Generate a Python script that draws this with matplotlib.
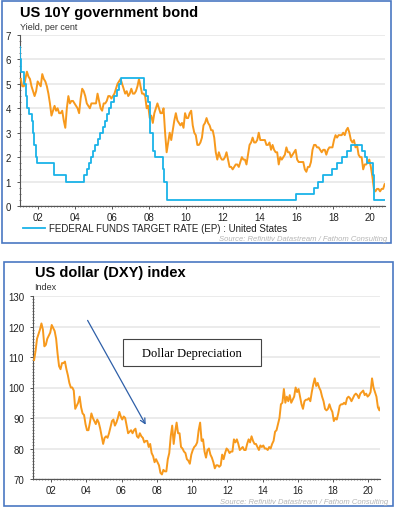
import numpy as np
import matplotlib
matplotlib.use("Agg")
import matplotlib.pyplot as plt
from matplotlib.patches import Rectangle
from matplotlib.ticker import MultipleLocator

plt.rcParams['font.family'] = ['Liberation Sans', 'DejaVu Sans']

# US 10Y yield, monthly from Jan 2001
yield_10y = [
    5.2, 4.9, 4.9, 5.2, 5.5, 5.3, 5.2, 4.9, 4.7, 4.5, 4.7, 5.1,   # 2001
    5.0, 4.9, 5.4, 5.2, 5.1, 4.9, 4.6, 4.2, 3.7, 3.9, 4.1, 3.9,   # 2002
    4.0, 3.8, 3.8, 3.9, 3.5, 3.2, 4.0, 4.5, 4.2, 4.3, 4.3, 4.2,   # 2003
    4.1, 4.0, 3.8, 4.4, 4.8, 4.7, 4.5, 4.2, 4.1, 4.0, 4.2, 4.2,   # 2004
    4.2, 4.2, 4.6, 4.3, 4.0, 3.9, 4.2, 4.2, 4.3, 4.5, 4.5, 4.4,   # 2005
    4.5, 4.6, 4.8, 5.0, 5.1, 5.2, 5.0, 4.8, 4.6, 4.7, 4.5, 4.6,   # 2006
    4.8, 4.6, 4.6, 4.7, 4.9, 5.2, 4.9, 4.6, 4.6, 4.5, 4.0, 4.1,   # 2007
    3.6, 3.7, 3.4, 3.8, 4.0, 4.2, 4.0, 3.8, 3.8, 4.0, 3.0, 2.2,   # 2008
    2.6, 3.0, 2.7, 3.1, 3.5, 3.8, 3.5, 3.4, 3.3, 3.4, 3.2, 3.8,   # 2009
    3.6, 3.6, 3.8, 3.9, 3.3, 3.0, 2.9, 2.5, 2.5, 2.6, 2.8, 3.3,   # 2010
    3.4, 3.6, 3.4, 3.3, 3.1, 3.1, 2.8, 2.2, 1.9, 2.2, 2.0, 1.9,   # 2011
    1.9, 2.0, 2.2, 1.9, 1.6, 1.6, 1.5, 1.6, 1.7, 1.7, 1.6, 1.8,   # 2012
    2.0, 1.9, 1.9, 1.7, 2.1, 2.5, 2.6, 2.8, 2.6, 2.6, 2.7, 3.0,   # 2013
    2.7, 2.7, 2.7, 2.7, 2.5, 2.5, 2.6, 2.3, 2.5, 2.3, 2.2, 2.2,   # 2014
    1.7, 2.0, 1.9, 2.0, 2.1, 2.4, 2.2, 2.2, 2.0, 2.1, 2.2, 2.3,   # 2015
    1.9, 1.8, 1.8, 1.8, 1.8, 1.5, 1.4, 1.6, 1.6, 1.8, 2.3, 2.5,   # 2016
    2.5, 2.4, 2.4, 2.3, 2.2, 2.3, 2.3, 2.1, 2.3, 2.4, 2.4, 2.4,   # 2017
    2.7, 2.9, 2.8, 2.9, 2.9, 2.9, 3.0, 2.9, 3.1, 3.2, 3.0, 2.7,   # 2018
    2.6, 2.7, 2.4, 2.5, 2.1, 2.0, 2.0, 1.5, 1.7, 1.7, 1.8, 1.9,   # 2019
    1.6, 1.2, 0.7, 0.6, 0.7, 0.7, 0.6, 0.7, 0.7, 0.9, 0.85, 0.95, # 2020
]

# Fed funds target rate: change dates (decimal years) and new level
ffr_dates = [2001.0, 2001.01, 2001.08, 2001.21, 2001.30, 2001.37, 2001.49, 2001.64,
             2001.71, 2001.75, 2001.85, 2001.94, 2002.85, 2003.48, 2004.49,
             2004.61, 2004.72, 2004.86, 2004.95, 2005.09, 2005.22, 2005.34,
             2005.49, 2005.61, 2005.72, 2005.83, 2005.95, 2006.08, 2006.24,
             2006.36, 2006.49, 2007.71, 2007.83, 2007.95, 2008.06, 2008.08,
             2008.21, 2008.33, 2008.77, 2008.83, 2008.96, 2015.96, 2016.95,
             2017.20, 2017.45, 2017.95, 2018.22, 2018.45, 2018.73, 2018.97,
             2019.58, 2019.72, 2019.83, 2020.17, 2020.20, 2020.95]
ffr_rate = [6.5, 6.0, 5.5, 5.0, 4.5, 4.0, 3.75, 3.5, 3.0, 2.5, 2.0, 1.75, 1.25,
            1.0, 1.25, 1.5, 1.75, 2.0, 2.25, 2.5, 2.75, 3.0, 3.25, 3.5, 3.75,
            4.0, 4.25, 4.5, 4.75, 5.0, 5.25, 4.75, 4.5, 4.25, 3.5, 3.0, 2.25,
            2.0, 1.5, 1.0, 0.25, 0.5, 0.75, 1.0, 1.25, 1.5, 1.75, 2.0, 2.25,
            2.5, 2.25, 2.0, 1.75, 1.25, 0.25, 0.25]

# DXY index, monthly from Jan 2001
dxy = [
    109, 112, 116, 117.5, 119, 121, 119, 113.5, 114, 116, 117, 118,        # 2001
    120.5, 119.5, 118.5, 116, 111, 107, 106, 108, 108, 108.5, 106, 104,     # 2002
    101.5, 100, 100, 99, 93, 94, 95, 97, 93.5, 91.5, 91, 88,                # 2003
    86, 86, 88.5, 91.5, 90, 89, 88, 89.5, 88.5, 86.5, 84, 81.5,             # 2004
    83.5, 84, 83.5, 85, 87, 89, 89.5, 87.5, 88.5, 90, 92, 90.5,             # 2005
    89.5, 90.5, 90, 87.5, 85, 85.5, 86, 85, 86, 86.5, 84, 83.5,             # 2006
    85, 84, 83.5, 82, 82.5, 82.5, 80.5, 81.5, 78.5, 77.5, 75.5, 76.5,       # 2007
    75.5, 74.5, 72, 71.5, 73, 72.5, 72.5, 76.5, 78.5, 84, 87.5, 81.5,       # 2008
    85.5, 88.5, 85, 85, 80.5, 80, 79, 78.5, 76.5, 76, 75, 78,               # 2009
    79.5, 80.5, 81, 82, 86, 88.5, 82.5, 83, 79, 77, 79.5, 80,               # 2010
    78, 77, 75.5, 73.5, 74.5, 74.5, 74, 74.5, 78, 76.5, 78.5, 80,           # 2011
    79.5, 78.5, 79, 79, 83, 82, 83, 81.5, 79.5, 80, 80.5, 79.5,             # 2012
    79.5, 81.5, 83, 82, 84, 82.5, 81.5, 81.5, 80.5, 79.5, 81, 80.5,         # 2013
    81, 80, 80, 79.5, 80.5, 80, 81.5, 82.5, 85.5, 86, 88, 90,               # 2014
    94.5, 95, 99.5, 95, 97, 95.5, 97.5, 95, 96, 97, 100, 98.5,              # 2015
    99.5, 97, 94.5, 93, 95.5, 96, 96, 96.5, 95.5, 98.5, 101, 103,           # 2016
    100.5, 101.5, 100, 99, 97, 95.5, 93, 92.5, 93, 94.5, 93, 92,            # 2017
    89, 90, 89.5, 91.5, 94, 94.5, 94.5, 95, 94.5, 96.5, 97, 96.5,           # 2018
    95.5, 96.5, 97.5, 98, 97.5, 96.5, 98, 98.5, 99, 97.5, 98, 97,           # 2019
    97.5, 98.5, 103, 100, 98.5, 97, 93.5, 92.5, 94, 93.5, 92, 90,           # 2020
]

x_yield = 2001 + (np.arange(len(yield_10y)) + 0.5) / 12
x_dxy = 2001 + (np.arange(len(dxy)) + 0.5) / 12

year_ticks = list(range(2002, 2021, 2))
year_labels = [f"{y % 100:02d}" for y in year_ticks]

ORANGE = "#F7991C"
BLUE = "#1AB3E8"
FRAME = "#4A78C2"
W, H = 399, 510


def fx(px):
    return px / W


def fy(py):
    return 1 - py / H


def style_axes(ax, ylim, ystep, yminor, xlim):
    ax.set_xlim(*xlim)
    ax.set_ylim(*ylim)
    ax.yaxis.set_major_locator(MultipleLocator(ystep))
    ax.yaxis.set_minor_locator(MultipleLocator(yminor))
    ax.set_xticks(year_ticks)
    ax.set_xticklabels(year_labels)
    ax.xaxis.set_minor_locator(MultipleLocator(1 / 6))
    for s in ["top", "right"]:
        ax.spines[s].set_visible(False)
    for s in ["left", "bottom"]:
        ax.spines[s].set_color("#555555")
        ax.spines[s].set_linewidth(0.8)
    ax.tick_params(which="major", labelsize=7, length=2.5, width=0.7,
                   color="#555555", labelcolor="#222222")
    ax.tick_params(axis="x", which="major", pad=1.5)
    ax.tick_params(axis="y", which="major", pad=4)
    ax.tick_params(which="minor", length=1.5, width=0.5, color="#555555",
                   direction="inout")
    ax.grid(axis="y", color="#E8E8E8", linewidth=1.2)
    ax.set_axisbelow(True)


fig = plt.figure(figsize=(W / 100, H / 100), dpi=100)

# panel frames
fig.patches.append(Rectangle((fx(2), fy(244)), fx(389), 242 / H, transform=fig.transFigure,
                             fill=False, edgecolor=FRAME, linewidth=1.2))
fig.patches.append(Rectangle((fx(4), fy(507)), fx(389), 244 / H, transform=fig.transFigure,
                             fill=False, edgecolor=FRAME, linewidth=1.2))

# top: 10Y yield
ax1 = fig.add_axes([fx(20), fy(207), fx(365), 171 / H])
style_axes(ax1, (0, 7), 1, 0.25, (2001.0, 2020.81))
ax1.plot(x_yield, yield_10y, color=ORANGE, linewidth=1.4, zorder=3)
ax1.plot(ffr_dates, ffr_rate, color=BLUE, linewidth=1.3, drawstyle="steps-post", zorder=4)

fig.text(fx(20), fy(13), "US 10Y government bond", fontsize=10.5, fontweight="bold",
         va="center", ha="left")
fig.text(fx(20), fy(27), "Yield, per cent", fontsize=6.5, va="center", ha="left",
         color="#333333")
fig.lines.append(plt.Line2D([fx(23), fx(45)], [fy(229), fy(229)], color=BLUE,
                            linewidth=1.3, transform=fig.transFigure))
fig.text(fx(49), fy(229), "FEDERAL FUNDS TARGET RATE (EP) : United States",
         fontsize=7, va="center", ha="left", color="#222222")
fig.text(fx(387), fy(239.5), "Source: Refinitiv Datastream / Fathom Consulting",
         fontsize=5.5, style="italic", va="center", ha="right", color="#B5B5B5")

# bottom: DXY
ax2 = fig.add_axes([fx(33), fy(480), fx(347), 183 / H])
style_axes(ax2, (70, 130), 10, 1, (2000.98, 2020.66))
ax2.plot(x_dxy, dxy, color=ORANGE, linewidth=1.4, zorder=3)

fig.text(fx(35), fy(273), "US dollar (DXY) index", fontsize=10.5, fontweight="bold",
         va="center", ha="left")
fig.text(fx(34), fy(288), "Index", fontsize=6.5, va="center", ha="left", color="#333333")
fig.text(fx(388), fy(503), "Source: Refinitiv Datastream / Fathom Consulting",
         fontsize=5.5, style="italic", va="center", ha="right", color="#B5B5B5")

# annotation
box_x, box_y, box_w, box_h = 2006.08, 107.0, 7.83, 8.9
ax2.add_patch(Rectangle((box_x, box_y), box_w, box_h, facecolor="white",
                        edgecolor="#444444", linewidth=0.8, zorder=5))
ax2.text(box_x + box_w / 2, box_y + box_h / 2, "Dollar Depreciation",
         family=["Liberation Serif"], fontsize=9, ha="center", va="center", zorder=6)
ax2.annotate("", xy=(2007.45, 87.0), xytext=(2004.0, 122.8),
             arrowprops=dict(arrowstyle="->", color="#2E5FA8", linewidth=0.9,
                             mutation_scale=9), zorder=6)

fig.savefig("out.png", dpi=100)
